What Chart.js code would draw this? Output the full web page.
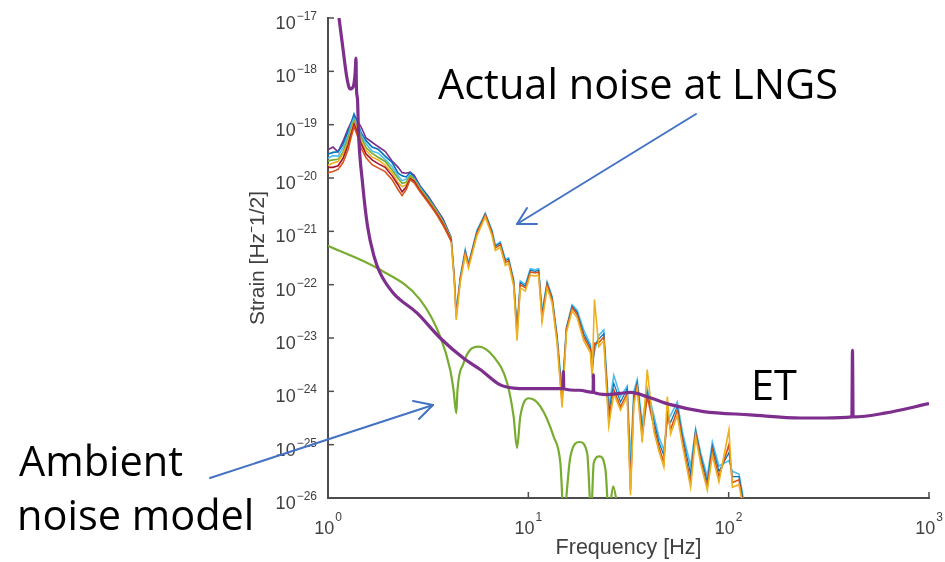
<!DOCTYPE html>
<html><head><meta charset="utf-8">
<script src="https://cdn.jsdelivr.net/npm/chart.js@4.4.1/dist/chart.umd.min.js"></script>
<style>
html,body{margin:0;padding:0;background:#fff;}
#wrap{position:relative;width:945px;height:562px;overflow:hidden;}
#c{position:absolute;left:0;top:0;}
#ann{position:absolute;left:0;top:0;pointer-events:none;}
</style></head><body>
<div id="wrap">
<canvas id="c" width="945" height="562"></canvas>
<svg id="ann" width="945" height="562" viewBox="0 0 945 562" xmlns="http://www.w3.org/2000/svg">
 <g font-family="'Open Sans'" font-size="41.5" fill="#000">
  <text x="438" y="99">Actual noise at LNGS</text>
  <text x="751" y="400">ET</text>
  <text x="19" y="476">Ambient</text>
  <text x="17" y="530">noise model</text>
 </g>
 <g stroke="#4472C4" stroke-width="2" fill="none" stroke-linecap="round" stroke-linejoin="round">
  <line x1="696" y1="114" x2="517" y2="224"/>
  <polyline points="537,224 517,224 527,208"/>
  <line x1="210" y1="478" x2="433" y2="405"/>
  <polyline points="413,401 433,405 419,419"/>
 </g>
</svg>
</div>
<script>
// ---- Data (frequency in Hz, strain as log10 values) ----
const xTickValues = [1, 10, 100, 1000];
const yTickValues = [1e-26, 1e-25, 1e-24, 1e-23, 1e-22, 1e-21, 1e-20, 1e-19, 1e-18, 1e-17];

// ET sensitivity curve (purple)
const etFreq = [1.000, 1.135, 1.189, 1.240, 1.288, 1.338, 1.365, 1.380, 1.386, 1.404, 1.420, 1.487, 1.576, 1.698, 1.809, 2.11, 2.78, 3.63, 4.75, 5.75, 7.24, 8.45, 10.0, 14.90, 14.96, 15.03, 18.0, 21.05, 21.13, 21.20, 24.7, 28.5, 32.4, 39.2, 51.3, 75, 128, 229, 300, 412, 415, 418, 600, 1000];
const etLog = [-15.6, -17.00, -17.59, -18.10, -18.33, -18.28, -18.05, -17.75, -18.30, -18.53, -19.15, -20.09, -20.91, -21.47, -21.76, -22.15, -22.53, -23.00, -23.38, -23.59, -23.88, -23.94, -23.95, -23.95, -23.63, -23.95, -23.98, -24.02, -23.69, -24.02, -24.06, -24.04, -24.02, -24.10, -24.25, -24.38, -24.44, -24.50, -24.50, -24.48, -23.23, -24.48, -24.41, -24.23];

// Ambient noise model (green)
const ambFreq = [1.0, 1.82, 2.88, 3.63, 4.07, 4.23, 4.37, 4.43, 4.75, 5.13, 5.64, 6.71, 7.83, 8.44, 8.78, 9.12, 10.03, 11.48, 13.38, 14.45, 15.01, 16.22, 18.05, 19.67, 20.59, 21.21, 22.65, 24.27, 25.2, 26.5, 28.3, 40];
const ambLog = [-21.27, -21.72, -22.28, -22.97, -23.59, -23.97, -24.41, -23.97, -23.47, -23.22, -23.16, -23.35, -23.84, -24.47, -25.06, -24.47, -24.13, -24.28, -24.85, -25.34, -26.3, -25.22, -24.95, -25.16, -26.3, -25.34, -25.22, -25.47, -26.3, -25.78, -26.3, -27.5];

// Measured noise at LNGS, low-frequency part (several traces)
const lfFreq = [1.000, 1.059, 1.122, 1.189, 1.259, 1.303, 1.349, 1.396, 1.462, 1.549, 1.660, 1.778, 1.928, 2.089, 2.239, 2.344, 2.455, 2.570, 2.692, 2.884, 3.162, 3.467, 3.758, 4.121];
const lfPurple = [-19.47, -19.42, -19.51, -19.31, -19.08, -18.96, -18.84, -18.92, -19.04, -19.25, -19.33, -19.41, -19.50, -19.68, -19.80, -19.90, -19.91, -19.89, -19.95, -20.15, -20.34, -20.57, -20.77, -21.12];
const lfBlue   = [-19.55, -19.52, -19.51, -19.37, -19.13, -18.98, -18.80, -18.93, -19.15, -19.30, -19.42, -19.46, -19.59, -19.71, -19.91, -19.96, -19.98, -19.90, -19.99, -20.16, -20.36, -20.59, -20.80, -21.13];
const lfCyan   = [-19.63, -19.58, -19.59, -19.43, -19.21, -19.01, -18.88, -18.97, -19.19, -19.36, -19.50, -19.53, -19.65, -19.79, -19.96, -20.05, -20.02, -19.94, -20.01, -20.18, -20.39, -20.60, -20.82, -21.14];
const lfGreen  = [-19.68, -19.66, -19.65, -19.51, -19.26, -19.08, -18.92, -19.04, -19.24, -19.43, -19.54, -19.61, -19.69, -19.85, -20.01, -20.10, -20.08, -19.96, -20.03, -20.20, -20.40, -20.61, -20.83, -21.15];
const lfYellow = [-19.76, -19.72, -19.69, -19.55, -19.33, -19.12, -18.96, -19.06, -19.31, -19.48, -19.61, -19.66, -19.76, -19.90, -20.09, -20.16, -20.13, -19.99, -20.05, -20.22, -20.42, -20.63, -20.85, -21.16];
const lfRed    = [-19.80, -19.80, -19.77, -19.63, -19.38, -19.18, -18.99, -19.13, -19.35, -19.55, -19.66, -19.73, -19.80, -19.96, -20.13, -20.26, -20.17, -20.01, -20.06, -20.24, -20.44, -20.65, -20.87, -21.17];
const lfOrange = [-19.90, -19.88, -19.84, -19.71, -19.47, -19.24, -19.04, -19.19, -19.43, -19.62, -19.75, -19.81, -19.88, -20.03, -20.22, -20.33, -20.22, -20.03, -20.09, -20.26, -20.46, -20.67, -20.89, -21.19];

// Measured noise at LNGS, high-frequency part
const hfFreq = [4.121, 4.266, 4.365, 4.571, 4.842, 5.028, 5.541, 6.095, 6.584, 6.839, 7.244, 7.674, 7.971, 8.445, 8.782, 9.120, 9.661, 10.23, 10.84, 11.26, 11.71, 12.41, 13.14, 13.92, 14.74, 15.49, 16.54, 17.52, 18.90, 20.42, 20.82, 21.38, 22.47, 23.80, 25.20, 26.70, 28.84, 31.16, 32.36, 33.61, 34.95, 37.02, 39.22, 42.32, 44.83, 47.48, 49.37, 51.29, 55.41, 58.69, 64.57, 68.39, 72.44, 78.24, 82.87, 89.43, 100.3, 104.3, 112.6, 117.1, 123];
const hfCyan   = [-21.12, -21.82, -22.50, -21.86, -21.34, -21.60, -20.98, -20.66, -20.98, -21.26, -21.20, -21.52, -21.50, -21.90, -22.80, -21.93, -22.00, -21.70, -21.72, -21.70, -22.50, -21.95, -22.22, -22.95, -24.0, -22.80, -22.38, -22.48, -22.85, -23.12, -23.55, -23.25, -22.95, -22.85, -24.3, -23.70, -24.10, -23.90, -25.3, -24.0, -23.78, -24.6, -23.95, -24.45, -24.85, -25.1, -24.55, -24.45, -24.20, -24.75, -25.4, -24.70, -25.15, -25.6, -24.95, -25.4, -25.3, -25.5, -25.55, -25.9, -26.5];
const hfBlue   = [-21.14, -21.85, -22.55, -21.88, -21.37, -21.62, -21.00, -20.67, -21.00, -21.28, -21.22, -21.55, -21.52, -21.93, -22.87, -21.96, -22.03, -21.73, -21.75, -21.73, -22.56, -21.97, -22.25, -22.99, -24.1, -22.82, -22.40, -22.52, -22.92, -23.17, -23.6, -23.15, -23.02, -22.92, -24.4, -23.85, -24.2, -23.95, -25.6, -24.08, -23.83, -24.72, -24.02, -24.55, -24.95, -25.2, -24.47, -24.58, -24.28, -24.83, -25.55, -24.74, -25.2, -25.7, -25.02, -25.5, -25.15, -25.6, -25.6, -25.95, -26.55];
const hfOrange = [-21.16, -21.87, -22.60, -21.91, -21.40, -21.64, -21.03, -20.69, -21.03, -21.31, -21.25, -21.59, -21.55, -21.96, -22.94, -22.00, -22.06, -21.76, -21.78, -21.76, -22.62, -22.00, -22.28, -23.03, -24.21, -22.84, -22.43, -22.56, -22.98, -23.22, -23.65, -23.10, -23.09, -22.98, -24.53, -23.97, -24.29, -24.03, -25.85, -24.16, -23.88, -24.85, -24.10, -24.66, -25.04, -25.34, -24.40, -24.72, -24.35, -24.91, -25.71, -24.78, -25.28, -25.79, -25.10, -25.60, -25.00, -25.71, -25.66, -26.03, -26.6];
const hfYellow = [-21.20, -21.92, -22.66, -21.96, -21.45, -21.69, -21.08, -20.73, -21.08, -21.36, -21.30, -21.64, -21.60, -22.02, -23.05, -22.06, -22.12, -21.82, -21.84, -21.82, -22.70, -22.06, -22.34, -23.10, -24.30, -22.90, -22.49, -22.62, -23.05, -23.28, -23.75, -22.28, -23.16, -23.05, -24.65, -24.05, -24.35, -24.10, -25.95, -24.25, -23.95, -24.95, -23.59, -24.75, -25.12, -25.42, -24.10, -24.80, -24.45, -25.0, -25.80, -24.85, -25.35, -25.85, -25.20, -25.70, -24.72, -25.80, -25.75, -26.1, -26.7];

// ---- Build chart ----
const toPoints = (fs, ls) => fs.map((f, i) => ({ x: f, y: Math.pow(10, ls[i]) }));

function noiseSet(fs, ls, color, order, width) {
  return { data: toPoints(fs, ls), showLine: true, borderColor: color, borderWidth: width || 1.6, pointRadius: 0, tension: 0, order: order };
}

const datasets = [
  { label: 'ET', data: toPoints(etFreq, etLog), showLine: true, borderColor: '#7E2F8E', borderWidth: 3.2, pointRadius: 0, cubicInterpolationMode: 'monotone', order: 0 },
  { label: 'Ambient noise model', data: toPoints(ambFreq, ambLog), showLine: true, borderColor: '#77AC30', borderWidth: 2.2, pointRadius: 0, cubicInterpolationMode: 'monotone', order: 1 },
  noiseSet(lfFreq, lfOrange, '#D95319', 2),
  noiseSet(lfFreq, lfRed, '#A2142F', 3),
  noiseSet(lfFreq, lfYellow, '#EDB120', 4),
  noiseSet(lfFreq, lfGreen, '#77AC30', 5),
  noiseSet(lfFreq, lfCyan, '#4DBEEE', 6),
  noiseSet(lfFreq, lfBlue, '#0072BD', 7),
  noiseSet(lfFreq, lfPurple, '#7E2F8E', 8),
  noiseSet(hfFreq, hfYellow, '#EDB120', 2),
  noiseSet(hfFreq, hfOrange, '#D95319', 3),
  noiseSet(hfFreq, hfBlue, '#0072BD', 4, 1.2),
  noiseSet(hfFreq, hfCyan, '#4DBEEE', 5)
];

const axisColor = '#4d4d4d';
const textColor = '#404040';
const FONT = "'Liberation Sans', Arial, sans-serif";

// inward tick marks (MATLAB style)
const innerTicks = {
  id: 'innerTicks',
  beforeDatasetsDraw(chart) {
    const { ctx, chartArea: a, scales: { x, y } } = chart;
    ctx.save();
    ctx.strokeStyle = axisColor;
    ctx.lineWidth = 1.5;
    x.ticks.forEach(t => { const px = x.getPixelForValue(t.value); ctx.beginPath(); ctx.moveTo(px, a.bottom); ctx.lineTo(px, a.bottom - 6); ctx.stroke(); });
    y.ticks.forEach(t => { const py = y.getPixelForValue(t.value); ctx.beginPath(); ctx.moveTo(a.left, py); ctx.lineTo(a.left + 6, py); ctx.stroke(); });
    ctx.restore();
  }
};

// decade tick labels "10" with raised exponent
function expText(v) { const e = Math.round(Math.log10(v)); return (e < 0 ? '\u2212' : '') + Math.abs(e); }
const decadeLabels = {
  id: 'decadeLabels',
  afterDraw(chart) {
    const { ctx, chartArea: a, scales: { x, y } } = chart;
    ctx.save();
    ctx.fillStyle = textColor;
    ctx.textAlign = 'left';
    ctx.textBaseline = 'alphabetic';
    const big = '18px ' + FONT, small = '12px ' + FONT;
    y.ticks.forEach(t => {
      const py = y.getPixelForValue(t.value);
      const es = expText(t.value);
      ctx.font = small; const we = ctx.measureText(es).width;
      ctx.font = big; const wb = ctx.measureText('10').width;
      const right = a.left - 11;
      ctx.font = big; ctx.fillText('10', right - we - wb - 1, py + 11);
      ctx.font = small; ctx.fillText(es, right - we, py + 2);
    });
    x.ticks.forEach(t => {
      const px = x.getPixelForValue(t.value);
      const es = expText(t.value);
      ctx.font = small; const we = ctx.measureText(es).width;
      ctx.font = big; const wb = ctx.measureText('10').width;
      const start = px - (wb + 1 + we) / 2;
      ctx.font = big; ctx.fillText('10', start, a.bottom + 36);
      ctx.font = small; ctx.fillText(es, start + wb + 1, a.bottom + 23);
    });
    ctx.restore();
  }
};

new Chart(document.getElementById('c'), {
  type: 'scatter',
  data: { datasets },
  options: {
    responsive: false,
    devicePixelRatio: 1,
    animation: false,
    layout: { padding: { left: 240, top: 18, right: 16, bottom: 0 } },
    plugins: { legend: { display: false }, tooltip: { enabled: false } },
    scales: {
      x: {
        type: 'logarithmic', min: 1, max: 1000,
        afterBuildTicks: s => { s.ticks = xTickValues.map(v => ({ value: v })); },
        afterFit: s => { s.height = 64; },
        grid: { display: false, drawTicks: false },
        border: { display: true, color: axisColor, width: 2 },
        ticks: { display: false },
        title: { display: true, text: 'Frequency [Hz]', color: textColor, padding: { top: 0, bottom: 1 }, font: { family: FONT, size: 21.5 } }
      },
      y: {
        type: 'logarithmic', min: 1e-26, max: 1e-17,
        afterBuildTicks: s => { s.ticks = yTickValues.map(v => ({ value: v })); },
        afterFit: s => { s.width = 88; },
        grid: { display: false, drawTicks: false },
        border: { display: true, color: axisColor, width: 2 },
        ticks: { display: false },
        title: { display: true, text: 'Strain [Hz\u207B1/2]', color: textColor, padding: { top: 6, bottom: 0 }, font: { family: FONT, size: 21 } }
      }
    }
  },
  plugins: [innerTicks, decadeLabels]
});
</script>
</body></html>
